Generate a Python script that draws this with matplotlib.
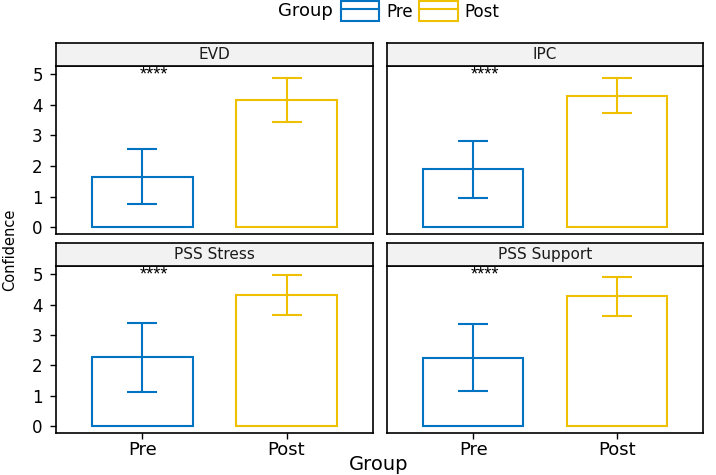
import numpy as np
import matplotlib
matplotlib.use("Agg")
import matplotlib.pyplot as plt
from matplotlib.patches import Patch
from matplotlib.lines import Line2D

plt.rcParams['font.family'] = ['DejaVu Sans']

# data
panels = ["EVD", "IPC", "PSS Stress", "PSS Support"]
groups = ["Pre", "Post"]
means = [[1.65, 4.16], [1.90, 4.30], [2.27, 4.32], [2.26, 4.28]]
err_low = [[0.77, 3.45], [0.97, 3.73], [1.13, 3.67], [1.17, 3.64]]
err_high = [[2.56, 4.89], [2.83, 4.89], [3.41, 4.99], [3.35, 4.91]]
signif = ["****", "****", "****", "****"]
colors = ["#0073C2", "#EFC000"]

W, H = 716, 475
fig = plt.figure(figsize=(W / 100, H / 100), dpi=100)


def rect(l, t, r, b):
    return [l / W, 1 - b / H, (r - l) / W, (b - t) / H]


# pixel boxes for each facet: (left, right, strip top, strip bottom, panel bottom)
cols = [(56, 373), (387, 703)]
rows = [(43, 66, 234), (243, 266, 433)]

x = np.arange(1, len(groups) + 1)
for i, name in enumerate(panels):
    r, c = divmod(i, 2)
    l, rr = cols[c]
    st, sb, pb = rows[r]
    ax = fig.add_axes(rect(l, sb, rr, pb))
    sax = fig.add_axes(rect(l, st, rr, sb))

    m = np.array(means[i])
    lo = np.array(err_low[i])
    hi = np.array(err_high[i])
    ax.bar(x, m, width=0.7, facecolor="white", edgecolor=colors, linewidth=1.5, zorder=2)
    for k in range(len(groups)):
        ax.errorbar(x[k], m[k], yerr=[[m[k] - lo[k]], [hi[k] - m[k]]],
                    fmt="none", ecolor=colors[k], elinewidth=1.5,
                    capsize=10.5, capthick=1.5, zorder=3)
    ax.text(1.08, 4.82, signif[i], ha="center", va="baseline", fontsize=13,
            family="Liberation Sans")

    ax.set_xlim(0.4, 2.6)
    ax.set_ylim(-0.22, 5.27)
    ax.set_yticks([0, 1, 2, 3, 4, 5])
    for s in ax.spines.values():
        s.set_linewidth(1.2)
        s.set_color("black")
    if c == 0:
        ax.tick_params(axis="y", labelsize=12, length=4.5, width=1, pad=5, colors="black")
    else:
        ax.tick_params(axis="y", left=False, labelleft=False)
    if r == 1:
        ax.set_xticks(x)
        ax.set_xticklabels(groups)
        ax.tick_params(axis="x", labelsize=13, length=4, width=1, pad=2)
    else:
        ax.set_xticks([])

    sax.set_facecolor("#F2F2F2")
    sax.set_xticks([])
    sax.set_yticks([])
    for s in sax.spines.values():
        s.set_linewidth(1.2)
        s.set_color("black")
    sax.text(0.5, 0.5, name, ha="center", va="center", fontsize=11,
             color="#1A1A1A", transform=sax.transAxes)

fig.text(10 / W, 1 - 250 / H, "Confidence", rotation=90, ha="center", va="center",
         fontsize=10.5)
fig.text(379 / W, 1 - 465 / H, "Group", ha="center", va="center", fontsize=14)

# legend on top
handles = [(Patch(facecolor="white", edgecolor=colors[k], linewidth=1.5),
            Line2D([], [], color=colors[k], linewidth=1.5)) for k in range(2)]
fig.text(305 / W, 1 - 11 / H, "Group", ha="center", va="center", fontsize=13)
fig.legend(handles=handles, labels=groups, loc="center left",
           bbox_to_anchor=(341 / W, 1 - 11 / H), ncol=2, frameon=False,
           fontsize=12, handlelength=2.3, handleheight=1.4, handletextpad=0.4,
           columnspacing=0.4, borderaxespad=0, borderpad=0)

fig.savefig("out.png", dpi=100)
